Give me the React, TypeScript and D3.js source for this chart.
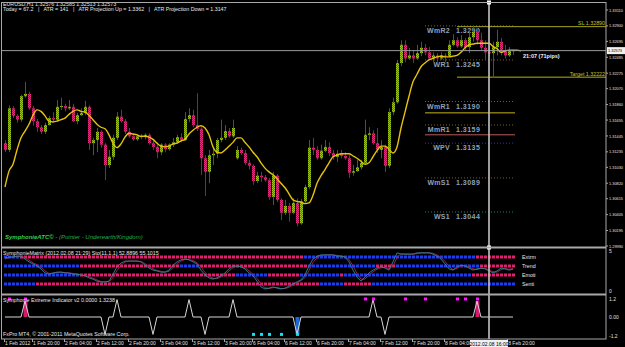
import React from 'react';
import * as d3 from 'd3';

// EURUSD H1 bars (open, high, low, close)
const opens = [
  1.3135, 1.3126, 1.3181, 1.3171, 1.3166, 1.3197, 1.3200, 1.3181, 1.3164, 1.3156,
  1.3150, 1.3159, 1.3168, 1.3166, 1.3183, 1.3184, 1.3181, 1.3183, 1.3164, 1.3172,
  1.3175, 1.3183, 1.3135, 1.3139, 1.3150, 1.3133, 1.3106, 1.3117, 1.3142, 1.3170,
  1.3164, 1.3150, 1.3144, 1.3140, 1.3144, 1.3143, 1.3146, 1.3135, 1.3130, 1.3123,
  1.3133, 1.3127, 1.3133, 1.3136, 1.3143, 1.3139, 1.3167, 1.3172, 1.3159, 1.3154,
  1.3115, 1.3097, 1.3119, 1.3121, 1.3139, 1.3142, 1.3151, 1.3144, 1.3115, 1.3126,
  1.3122, 1.3109, 1.3105, 1.3085, 1.3092, 1.3090, 1.3086, 1.3064, 1.3092, 1.3060,
  1.3043, 1.3052, 1.3043, 1.3056, 1.3029, 1.3058, 1.3077, 1.3129, 1.3126, 1.3115,
  1.3125, 1.3130, 1.3122, 1.3117, 1.3121, 1.3118, 1.3115, 1.3096, 1.3098, 1.3103,
  1.3109, 1.3146, 1.3148, 1.3135, 1.3126, 1.3130, 1.3105, 1.3176, 1.3189, 1.3241,
  1.3265, 1.3247, 1.3251, 1.3247, 1.3254, 1.3261, 1.3255, 1.3247, 1.3251, 1.3247,
  1.3251, 1.3250, 1.3265, 1.3271, 1.3263, 1.3271, 1.3262, 1.3275, 1.3282, 1.3271,
  1.3261, 1.3255, 1.3254, 1.3262, 1.3269, 1.3258, 1.3251, 1.32576,
];
const highs = [
  1.3139, 1.3185, 1.3184, 1.3173, 1.3199, 1.3216, 1.3203, 1.3184, 1.3167, 1.3159,
  1.3162, 1.3171, 1.3176, 1.3192, 1.3195, 1.3187, 1.3192, 1.3187, 1.3175, 1.3181,
  1.3191, 1.3185, 1.3142, 1.3155, 1.3152, 1.3135, 1.3126, 1.3146, 1.3176, 1.3179,
  1.3167, 1.3155, 1.3147, 1.3147, 1.3147, 1.3148, 1.3148, 1.3138, 1.3133, 1.3135,
  1.3135, 1.3135, 1.3142, 1.3146, 1.3148, 1.3176, 1.3181, 1.3179, 1.3201, 1.3156,
  1.3119, 1.3126, 1.3129, 1.3142, 1.3166, 1.3159, 1.3155, 1.3166, 1.3131, 1.3129,
  1.3126, 1.3113, 1.3107, 1.3097, 1.3097, 1.3093, 1.3089, 1.3097, 1.3094, 1.3062,
  1.3060, 1.3056, 1.3062, 1.3062, 1.3061, 1.3080, 1.3139, 1.3142, 1.3131, 1.3133,
  1.3139, 1.3136, 1.3126, 1.3126, 1.3126, 1.3123, 1.3119, 1.3106, 1.3113, 1.3113,
  1.3166, 1.3156, 1.3152, 1.3155, 1.3139, 1.3133, 1.3181, 1.3195, 1.3245, 1.3271,
  1.3271, 1.3261, 1.3258, 1.3265, 1.3269, 1.3266, 1.3262, 1.3255, 1.3254, 1.3255,
  1.3254, 1.3271, 1.3279, 1.3275, 1.3278, 1.3274, 1.3285, 1.3290, 1.3287, 1.3281,
  1.3271, 1.3265, 1.3269, 1.3285, 1.3274, 1.3265, 1.3262, 1.32585,
];
const lows = [
  1.3123, 1.3123, 1.3168, 1.3162, 1.3163, 1.3195, 1.3179, 1.3158, 1.3150, 1.3147,
  1.3147, 1.3158, 1.3163, 1.3164, 1.3179, 1.3177, 1.3179, 1.3163, 1.3160, 1.3171,
  1.3172, 1.3126, 1.3119, 1.3123, 1.3129, 1.3086, 1.3102, 1.3113, 1.3139, 1.3162,
  1.3147, 1.3142, 1.3138, 1.3138, 1.3140, 1.3140, 1.3133, 1.3126, 1.3115, 1.3119,
  1.3123, 1.3125, 1.3130, 1.3134, 1.3136, 1.3138, 1.3163, 1.3156, 1.3151, 1.3093,
  1.3065, 1.3082, 1.3106, 1.3115, 1.3136, 1.3139, 1.3142, 1.3142, 1.3113, 1.3119,
  1.3106, 1.3100, 1.3080, 1.3082, 1.3084, 1.3084, 1.3060, 1.3053, 1.3057, 1.3033,
  1.3040, 1.3031, 1.3041, 1.3025, 1.3027, 1.3056, 1.3074, 1.3119, 1.3113, 1.3113,
  1.3123, 1.3118, 1.3113, 1.3110, 1.3115, 1.3113, 1.3089, 1.3092, 1.3097, 1.3100,
  1.3106, 1.3139, 1.3133, 1.3122, 1.3115, 1.3097, 1.3102, 1.3172, 1.3187, 1.3237,
  1.3242, 1.3245, 1.3241, 1.3245, 1.3250, 1.3251, 1.3245, 1.3242, 1.3240, 1.3245,
  1.3242, 1.3249, 1.3263, 1.3261, 1.3261, 1.3258, 1.3254, 1.3269, 1.3265, 1.3258,
  1.3245, 1.3250, 1.3221, 1.3251, 1.3251, 1.3247, 1.3249, 1.32513,
];
const closes = [
  1.3126, 1.3181, 1.3171, 1.3166, 1.3197, 1.3200, 1.3181, 1.3164, 1.3156, 1.3150,
  1.3159, 1.3168, 1.3166, 1.3183, 1.3184, 1.3181, 1.3183, 1.3164, 1.3172, 1.3175,
  1.3183, 1.3135, 1.3139, 1.3150, 1.3133, 1.3106, 1.3117, 1.3142, 1.3170, 1.3164,
  1.3150, 1.3144, 1.3140, 1.3144, 1.3143, 1.3146, 1.3135, 1.3130, 1.3123, 1.3133,
  1.3127, 1.3133, 1.3136, 1.3143, 1.3139, 1.3167, 1.3172, 1.3159, 1.3154, 1.3115,
  1.3097, 1.3119, 1.3121, 1.3139, 1.3142, 1.3151, 1.3144, 1.3155, 1.3126, 1.3122,
  1.3109, 1.3105, 1.3085, 1.3092, 1.3090, 1.3086, 1.3064, 1.3092, 1.3060, 1.3043,
  1.3052, 1.3043, 1.3056, 1.3029, 1.3058, 1.3077, 1.3129, 1.3126, 1.3115, 1.3125,
  1.3130, 1.3122, 1.3117, 1.3121, 1.3118, 1.3115, 1.3096, 1.3098, 1.3103, 1.3109,
  1.3146, 1.3148, 1.3135, 1.3126, 1.3130, 1.3105, 1.3176, 1.3189, 1.3241, 1.3265,
  1.3247, 1.3251, 1.3247, 1.3254, 1.3261, 1.3255, 1.3247, 1.3251, 1.3247, 1.3251,
  1.3250, 1.3265, 1.3271, 1.3263, 1.3271, 1.3262, 1.3275, 1.3282, 1.3271, 1.3261,
  1.3255, 1.3254, 1.3262, 1.3269, 1.3258, 1.3251, 1.3257, 1.32573,
];
// yellow moving average (runs two bars past the last candle)
const maValues = [
  1.3077, 1.3098, 1.3107, 1.3126, 1.3142, 1.3151, 1.3160, 1.3172, 1.3179, 1.3177,
  1.3171, 1.3164, 1.3163, 1.3164, 1.3166, 1.3168, 1.3173, 1.3177, 1.3179, 1.3177,
  1.3176, 1.3172, 1.3166, 1.3160, 1.3156, 1.3154, 1.3146, 1.3135, 1.3129, 1.3134,
  1.3143, 1.3148, 1.3147, 1.3146, 1.3144, 1.3144, 1.3143, 1.3140, 1.3135, 1.3131,
  1.3130, 1.3131, 1.3134, 1.3135, 1.3138, 1.3140, 1.3147, 1.3152, 1.3156, 1.3158,
  1.3155, 1.3146, 1.3130, 1.3123, 1.3122, 1.3126, 1.3131, 1.3136, 1.3142, 1.3142,
  1.3136, 1.3130, 1.3123, 1.3117, 1.3109, 1.3102, 1.3097, 1.3093, 1.3088, 1.3082,
  1.3076, 1.3068, 1.3060, 1.3058, 1.3057, 1.3055, 1.3056, 1.3066, 1.3082, 1.3092,
  1.3100, 1.3109, 1.3117, 1.3119, 1.3121, 1.3121, 1.3121, 1.3118, 1.3115, 1.3111,
  1.3107, 1.3109, 1.3117, 1.3125, 1.3131, 1.3131, 1.3127, 1.3122, 1.3130, 1.3155,
  1.3176, 1.3197, 1.3216, 1.3226, 1.3236, 1.3241, 1.3245, 1.3247, 1.3249, 1.3250,
  1.3249, 1.3249, 1.3250, 1.3251, 1.3255, 1.3261, 1.3265, 1.3266, 1.3267, 1.3267,
  1.3267, 1.3267, 1.3263, 1.3260, 1.3255, 1.3257, 1.3258, 1.3258, 1.3258, 1.3257,
];

const priceTicks = [1.3311, 1.329, 1.32695, 1.32485, 1.32275, 1.3207, 1.3186, 1.31655,
  1.31445, 1.31235, 1.3103, 1.3082, 1.30615, 1.30405, 1.30195, 1.2999];

const timeLabels = ['1 Feb 2012', '1 Feb 20:00', '2 Feb 04:00', '2 Feb 12:00', '2 Feb 20:00',
  '3 Feb 04:00', '3 Feb 12:00', '3 Feb 20:00', '6 Feb 04:00', '6 Feb 12:00', '6 Feb 20:00',
  '7 Feb 04:00', '7 Feb 12:00', '7 Feb 20:00', '8 Feb 04:00', '8 Feb 20:00'];
const timeLabelBars = [0, 7, 15, 23, 31, 39, 47, 55, 62, 70, 78, 86, 94, 102, 110, 125.8];

// weekly pivots drawn on the right
const levelNames = ['WmR2', 'WR1', 'WmR1', 'MmR1', 'WPV', 'WmS1', 'WS1'];
const levelValues = [1.3290, 1.3245, 1.3190, 1.3159, 1.3135, 1.3089, 1.3044];
const bandValues = [1.3175, 1.3146];
const stopLoss = 1.3289;
const target = 1.32222;

// SymphonieMatrix: stochastic lines and the four state rows (run lengths, b = blue, p = pink)
const stoMain = [
  80, 83, 83, 85, 85, 78, 71, 66, 61, 54, 44, 41, 44, 46, 46, 44, 44, 41, 41, 39,
  37, 32, 29, 24, 22, 22, 24, 41, 59, 68, 73, 73, 73, 73, 71, 63, 56, 51, 49, 46,
  46, 51, 63, 71, 76, 78, 76, 71, 66, 51, 39, 32, 29, 32, 37, 44, 54, 61, 61, 59,
  54, 44, 37, 24, 10, 5, 7, 10, 7, 5, 7, 12, 17, 22, 27, 39, 61, 78, 85, 88,
  88, 88, 88, 85, 85, 83, 71, 51, 34, 24, 34, 44, 51, 56, 59, 56, 51, 71, 93, 90,
  90, 90, 90, 93, 93, 93, 93, 90, 85, 78, 66, 54, 51, 59, 63, 61, 56, 51, 54, 56,
  54, 49, 44, 49, 56, 54, 51, 53,
];
const stoSignal = [
  78, 81, 83, 84, 85, 82, 75, 69, 64, 58, 49, 43, 43, 45, 46, 45, 44, 43, 41, 40,
  38, 35, 31, 27, 23, 22, 23, 32, 50, 63, 71, 73, 73, 73, 72, 67, 60, 54, 50, 48,
  46, 48, 57, 67, 73, 77, 77, 74, 69, 59, 45, 36, 31, 30, 34, 40, 49, 57, 61, 60,
  57, 49, 41, 31, 17, 8, 6, 8, 9, 6, 6, 9, 14, 19, 25, 33, 50, 70, 81, 87,
  88, 88, 88, 87, 85, 84, 77, 61, 43, 29, 29, 39, 47, 53, 57, 58, 54, 61, 82, 91,
  90, 90, 90, 91, 93, 93, 93, 92, 88, 82, 72, 60, 52, 55, 61, 62, 59, 54, 52, 55,
  55, 52, 47, 46, 52, 55, 53, 55,
];
const matrixRows = ['Extrm', 'Trend', 'Emoti', 'Senti'];
const matrixRuns: [string, number][][] = [
  [['b', 4], ['p', 71], ['b', 43], ['p', 10]],
  [['b', 19], ['p', 25], ['b', 5], ['p', 27], ['b', 17], ['p', 5], ['b', 21], ['p', 9]],
  [['b', 19], ['p', 39], ['b', 8], ['p', 8], ['b', 10], ['p', 1], ['b', 32], ['p', 11]],
  [['b', 8], ['p', 71], ['b', 6], ['p', 7], ['b', 36]],
];

// Symphonie Extreme Indicator: spikes [bar, value], coloured histogram bars, signal dots
const extremeSpikes = [[5, 1.0], [25, -1.1], [28, 1.1], [37, -1.1], [46, 1.1], [50, -1.1],
  [57, 1.1], [73, -1.1], [92, 1.1], [95, -1.1], [118, 1.0]];
const pinkHistBars = [5, 118];
const blueHistBars = [73];
const upDots = [1, 5, 90, 92, 100, 105, 113, 115, 118];
const downDots = [62, 64, 66, 69, 73];

const vlineBar = 121;

const font = "'Liberation Sans', Arial, sans-serif";
const levelColors: Record<string, string> = {
  WmR2: '#7a6420', WR1: '#7a6420', WmR1: '#7a6420', MmR1: '#7a6420',
  WPV: '#3a2cb8', WmS1: '#7a5a22', WS1: '#168a6a',
};

const App = () => {
  const bars = d3.range(closes.length);
  const x = d3.scaleLinear().domain([0, 127]).range([5, 513]);
  const y = d3.scaleLinear().domain([1.2999, 1.3311]).range([246, 10]);
  const yStoch = d3.scaleLinear().domain([0, 100]).range([291, 250]);
  const yRow = d3.scalePoint<string>().domain(matrixRows).range([257, 284]);
  const yExt = d3.scaleLinear().domain([-1.2, 1.2]).range([336, 298]);

  const maLine = d3.line<number>().x((d, i) => x(i)).y(d => y(d)).curve(d3.curveMonotoneX);
  const stoLine = d3.line<number>().x((d, i) => x(i)).y(d => yStoch(d));

  const spikeMap = new Map(extremeSpikes.map(d => [d[0], d[1]]));
  const extremeValues = bars.map(i => spikeMap.get(i) ?? 0);
  const extLine = d3.line<number>().x((d, i) => x(i)).y(d => yExt(d));

  const matrixStates = matrixRuns.map(runs => runs.flatMap(([c, n]) => d3.range(n).map(() => c)));

  const lvlX0 = x(105), lvlX1 = x(127.5);
  const tradeX0 = x(113);
  const last = closes[closes.length - 1];
  const vx = x(vlineBar);

  return (
    <svg width={625} height={347} style={{ position: 'absolute', left: 0, top: 0, background: '#000' }}
      fontFamily={font}>
      <defs>
        <pattern id="bull" width="2" height="2" patternUnits="userSpaceOnUse">
          <rect width="2" height="2" fill="#2c9038" />
          <rect width="1" height="1" fill="#9cc41e" />
          <rect x="1" y="1" width="1" height="1" fill="#9cc41e" />
        </pattern>
        <pattern id="bear" width="2" height="2" patternUnits="userSpaceOnUse">
          <rect width="2" height="2" fill="#a01452" />
          <rect width="1" height="1" fill="#e0307c" />
          <rect x="1" y="1" width="1" height="1" fill="#e0307c" />
        </pattern>
        <clipPath id="main"><rect x={2} y={3} width={604} height={243} /></clipPath>
      </defs>
      <rect width={625} height={347} fill="#000" />

      {/* header */}
      <text x={3} y={6} fontSize={5.3} fill="#e8e8e8">EURUSD,H1  1.32576 1.32585 1.32513 1.32573</text>
      <text x={3} y={11} fontSize={5.3} fill="#e8e8e8" style={{ whiteSpace: 'pre' }}>
        {'Today = 67.2   |   ATR = 141   |   ATR Projection Up = 1.3362   |   ATR Projection Down = 1.3147'}
      </text>

      {/* pivot levels */}
      {levelNames.map((name, k) => (
        <g key={name}>
          <line x1={lvlX0} x2={lvlX1} y1={y(levelValues[k])} y2={y(levelValues[k])}
            stroke={levelColors[name]} strokeDasharray="1 2" />
          <text x={450} y={y(levelValues[k]) + 7} fontSize={7} fontWeight="bold" fill="#8fa2b8"
            textAnchor="end" letterSpacing={0.3}>{name}</text>
          <text x={456} y={y(levelValues[k]) + 7} fontSize={7} fontWeight="bold" fill="#8fa2b8"
            letterSpacing={0.5}>{levelValues[k].toFixed(4)}</text>
        </g>
      ))}
      <line x1={lvlX0} x2={lvlX1} y1={y(bandValues[0])} y2={y(bandValues[0])} stroke="#c8b418" />
      <line x1={lvlX0} x2={lvlX1} y1={y(bandValues[1])} y2={y(bandValues[1])} stroke="#b85a5a" />
      <line x1={tradeX0} x2={606} y1={y(stopLoss)} y2={y(stopLoss)} stroke="#a8a020" />
      <line x1={tradeX0} x2={606} y1={y(target)} y2={y(target)} stroke="#b8b010" />
      <text x={605} y={y(stopLoss) - 1.5} fontSize={5.3} fill="#c8c028" textAnchor="end">SL 1.32890</text>
      <text x={605} y={y(target) - 1.5} fontSize={5.3} fill="#c8c028" textAnchor="end">Target 1.32222</text>

      {/* candles */}
      <g clipPath="url(#main)">
        {bars.map(i => {
          const up = closes[i] >= opens[i];
          const top = y(Math.max(opens[i], closes[i]));
          const bot = y(Math.min(opens[i], closes[i]));
          const cx = Math.round(x(i));
          return (
            <g key={i}>
              <line x1={cx + 0.5} x2={cx + 0.5} y1={y(highs[i])} y2={y(lows[i])}
                stroke={up ? '#1f6a45' : '#6c22a0'} />
              <rect x={cx - 1} y={top} width={3} height={Math.max(1, bot - top)}
                fill={up ? 'url(#bull)' : 'url(#bear)'} />
            </g>
          );
        })}
        <path d={maLine(maValues) ?? ''} fill="none" stroke="#e6c20a" strokeWidth={1.4} />
      </g>

      {/* current price line and timer */}
      <line x1={2} x2={606} y1={y(last)} y2={y(last)} stroke="#9a9a9a" />
      <text x={x(129.5)} y={y(last) + 7} fontSize={5.5} fontWeight="bold" fill="#f0f0f0">21:07 (71pips)</text>

      <text x={5} y={239} fontSize={6} fill="#1fb048" fontStyle="italic">
        <tspan fontWeight="bold" fill="#2fd050">SymphonieATC©</tspan>
        <tspan> - (Pointer - Underearth/Kingdom)</tspan>
      </text>

      {/* SymphonieMatrix panel */}
      {matrixStates.map((row, r) => row.map((c, i) => (
        <rect key={`${r}-${i}`} x={Math.round(x(i)) - 1} y={(yRow(matrixRows[r]) ?? 0) - 1.5}
          width={3} height={3} fill={c === 'p' ? '#e0206e' : '#1c3cf4'} />
      )))}
      <path d={stoLine(stoSignal) ?? ''} fill="none" stroke="#a8244a" strokeWidth={0.9} />
      <path d={stoLine(stoMain) ?? ''} fill="none" stroke="#2a8a9e" strokeWidth={0.9} />
      {matrixRows.map(r => (
        <text key={r} x={522} y={(yRow(r) ?? 0) + 2} fontSize={5.3} fill="#e8e8e8">{r}</text>
      ))}
      <text x={3} y={255} fontSize={5.3} fill="#e8e8e8">
        SymphonieMatrix (2012.02.08 21:29)  Sto(11,1,1) 52.8896 55.1015
      </text>

      {/* Extreme indicator panel */}
      {pinkHistBars.map(i => (
        <rect key={`ph${i}`} x={Math.round(x(i)) - 1.5} y={yExt(extremeValues[i])} width={4}
          height={yExt(0) - yExt(extremeValues[i])} fill="#d8186a" />
      ))}
      {blueHistBars.map(i => (
        <rect key={`bh${i}`} x={Math.round(x(i)) - 1.5} y={yExt(0)} width={4}
          height={yExt(extremeValues[i]) - yExt(0)} fill="#1c6ad8" />
      ))}
      <path d={extLine(extremeValues) ?? ''} fill="none" stroke="#d6d6d6" strokeWidth={1} />
      {upDots.map(i => (
        <rect key={`u${i}`} x={Math.round(x(i)) - 1} y={yExt(1.2) - 0.5} width={3} height={3} fill="#ff10ff" />
      ))}
      {downDots.map(i => (
        <rect key={`d${i}`} x={Math.round(x(i)) - 1} y={yExt(-1.1) - 1.5} width={3} height={3} fill="#10e0f0" />
      ))}
      <text x={3} y={302} fontSize={5.3} fill="#e8e8e8">Symphonie Extreme Indicator v2 0.0000 1.3238</text>
      <text x={3} y={336} fontSize={5.3} fill="#e8e8e8">FxPro MT4, © 2001-2011 MetaQuotes Software Corp.</text>

      {/* vertical marker line */}
      <line x1={vx} x2={vx} y1={2} y2={339} stroke="#c4c4c4" strokeWidth={1.6} />
      <rect x={vx - 2} y={0.5} width={4} height={4} fill="#fff" />
      <rect x={vx - 2} y={245.5} width={4} height={4} fill="#fff" />

      {/* frames */}
      <g fill="none" stroke="#a8a8a8">
        <rect x={1.5} y={2.5} width={604.5} height={336.5} />
        <line x1={1.5} x2={606} y1={247.5} y2={247.5} strokeWidth={2} />
        <line x1={1.5} x2={606} y1={294.5} y2={294.5} strokeWidth={2} />
      </g>

      {/* price axis */}
      {priceTicks.map(p => (
        <g key={p}>
          <line x1={606} x2={608} y1={y(p)} y2={y(p)} stroke="#a8a8a8" />
          <text x={609} y={y(p) + 1.6} fontSize={4.4} fill="#e0e0e0" textLength={14}
            lengthAdjust="spacingAndGlyphs">{p.toFixed(5)}</text>
        </g>
      ))}
      <rect x={607} y={y(last) - 3.5} width={18} height={7} fill="#f0f0f0" />
      <text x={608} y={y(last) + 1.6} fontSize={4.4} fill="#000" textLength={14}
        lengthAdjust="spacingAndGlyphs">{last.toFixed(5)}</text>
      <text x={609} y={253} fontSize={5} fill="#e0e0e0">5</text>
      <text x={609} y={293} fontSize={5} fill="#e0e0e0">0</text>
      <text x={609} y={301} fontSize={5} fill="#e0e0e0">1.2</text>
      <text x={609} y={319} fontSize={5} fill="#e0e0e0">0.00</text>
      <text x={609} y={338} fontSize={5} fill="#e0e0e0">-1.2</text>

      {/* time axis */}
      {timeLabels.map((t, k) => (
        <g key={t}>
          <line x1={Math.round(x(timeLabelBars[k])) - 0.5} x2={Math.round(x(timeLabelBars[k])) - 0.5}
            y1={339} y2={342} stroke="#a8a8a8" />
          <text x={x(timeLabelBars[k])} y={345} fontSize={5} fill="#e0e0e0">{t}</text>
        </g>
      ))}
      <rect x={vx - 19} y={340} width={38} height={7} fill="#f0f0f0" />
      <text x={vx} y={345.5} fontSize={5} fill="#000" textAnchor="middle">2012.02.08 16:00</text>
    </svg>
  );
};

export default App;
